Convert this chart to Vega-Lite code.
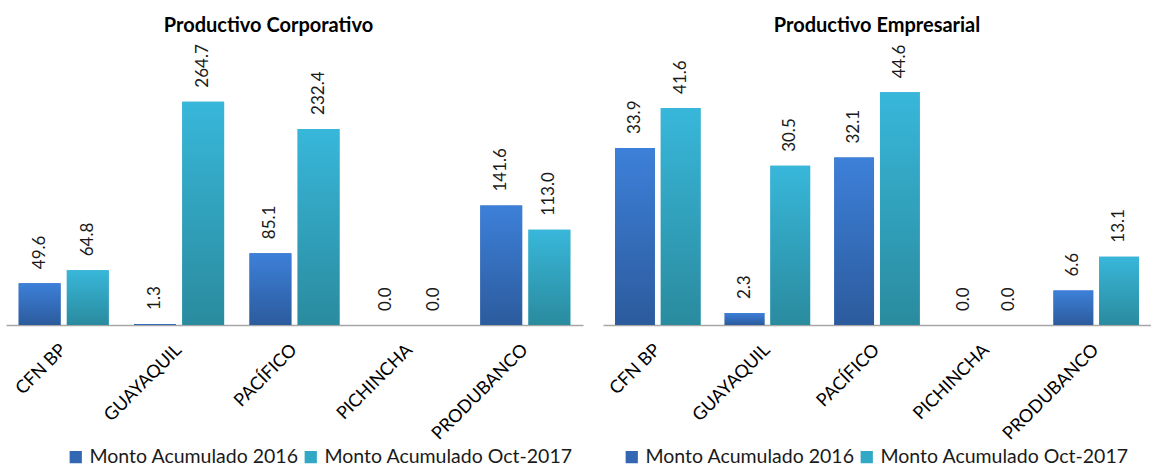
{
  "$schema": "https://vega.github.io/schema/vega-lite/v6.json",
  "padding": {"left": 6, "top": 16, "right": 0, "bottom": 0},
  "config": {"view": {"stroke": null}, "font": "Lato", "concat": {"spacing": 20}},
  "resolve": {"scale": {"color": "independent", "x": "independent", "y": "independent", "xOffset": "independent"}, "legend": {"color": "independent"}},
  "datasets": {
    "d": [
      {"panel": "Corporativo", "banco": "CFN BP", "serie": "Monto Acumulado 2016", "valor": 49.6},
      {"panel": "Corporativo", "banco": "CFN BP", "serie": "Monto Acumulado Oct-2017", "valor": 64.8},
      {"panel": "Corporativo", "banco": "GUAYAQUIL", "serie": "Monto Acumulado 2016", "valor": 1.3},
      {"panel": "Corporativo", "banco": "GUAYAQUIL", "serie": "Monto Acumulado Oct-2017", "valor": 264.7},
      {"panel": "Corporativo", "banco": "PACÍFICO", "serie": "Monto Acumulado 2016", "valor": 85.1},
      {"panel": "Corporativo", "banco": "PACÍFICO", "serie": "Monto Acumulado Oct-2017", "valor": 232.4},
      {"panel": "Corporativo", "banco": "PICHINCHA", "serie": "Monto Acumulado 2016", "valor": 0.0},
      {"panel": "Corporativo", "banco": "PICHINCHA", "serie": "Monto Acumulado Oct-2017", "valor": 0.0},
      {"panel": "Corporativo", "banco": "PRODUBANCO", "serie": "Monto Acumulado 2016", "valor": 141.6},
      {"panel": "Corporativo", "banco": "PRODUBANCO", "serie": "Monto Acumulado Oct-2017", "valor": 113.0},
      {"panel": "Empresarial", "banco": "CFN BP", "serie": "Monto Acumulado 2016", "valor": 33.9},
      {"panel": "Empresarial", "banco": "CFN BP", "serie": "Monto Acumulado Oct-2017", "valor": 41.6},
      {"panel": "Empresarial", "banco": "GUAYAQUIL", "serie": "Monto Acumulado 2016", "valor": 2.3},
      {"panel": "Empresarial", "banco": "GUAYAQUIL", "serie": "Monto Acumulado Oct-2017", "valor": 30.5},
      {"panel": "Empresarial", "banco": "PACÍFICO", "serie": "Monto Acumulado 2016", "valor": 32.1},
      {"panel": "Empresarial", "banco": "PACÍFICO", "serie": "Monto Acumulado Oct-2017", "valor": 44.6},
      {"panel": "Empresarial", "banco": "PICHINCHA", "serie": "Monto Acumulado 2016", "valor": 0.0},
      {"panel": "Empresarial", "banco": "PICHINCHA", "serie": "Monto Acumulado Oct-2017", "valor": 0.0},
      {"panel": "Empresarial", "banco": "PRODUBANCO", "serie": "Monto Acumulado 2016", "valor": 6.6},
      {"panel": "Empresarial", "banco": "PRODUBANCO", "serie": "Monto Acumulado Oct-2017", "valor": 13.1}
    ]
  },
  "hconcat": [
    {
      "title": {"text": "Productivo Corporativo", "fontSize": 20, "fontWeight": "bold", "font": "Lato", "color": "#000000", "anchor": "middle", "offset": 2, "dx": -26},
      "width": 577,
      "height": 287,
      "data": {"name": "d"},
      "transform": [{"filter": "datum.panel === 'Corporativo'"}],
      "encoding": {
        "x": {"field": "banco", "type": "nominal", "sort": null, "scale": {"paddingInner": 0.22, "paddingOuter": 0.11},
          "axis": {"title": null, "labelAngle": -45, "labelAlign": "right", "labelBaseline": "middle", "labelPadding": 22, "labelFontSize": 18, "labelFont": "Lato", "labelColor": "#000000", "ticks": false, "domainColor": "#a6a6a6", "domainWidth": 1.5}},
        "xOffset": {"field": "serie", "type": "nominal", "sort": null, "scale": {"domain": ["Monto Acumulado 2016", "Monto Acumulado Oct-2017"], "paddingInner": 0.13, "paddingOuter": 0}},
        "y": {"field": "valor", "type": "quantitative", "scale": {"domain": [0, 340.1], "nice": false, "zero": true}, "axis": null}
      },
      "layer": [
        {"mark": {"type": "bar"},
         "encoding": {"color": {"field": "serie", "type": "nominal", "scale": {"domain": ["Monto Acumulado 2016", "Monto Acumulado Oct-2017"], "range": ["#3467b3", "#31a9c6"]},
           "legend": {"orient": "none", "legendX": 60, "legendY": 409, "direction": "horizontal", "title": null, "labelFontSize": 19.5, "labelFont": "Lato", "labelColor": "#1a1a1a", "labelLimit": 400, "symbolType": "square", "symbolSize": 150, "symbolStrokeWidth": 0, "symbolOpacity": 1, "columnPadding": 2, "labelOffset": 4}}}},
        {"transform": [{"filter": "datum.serie === 'Monto Acumulado 2016'"}],
         "mark": {"type": "bar", "color": {"gradient": "linear", "x1": 0, "y1": 0, "x2": 0, "y2": 1, "stops": [{"offset": 0, "color": "#3d80d9"}, {"offset": 1, "color": "#2c5b9d"}]}}},
        {"transform": [{"filter": "datum.serie === 'Monto Acumulado Oct-2017'"}],
         "mark": {"type": "bar", "color": {"gradient": "linear", "x1": 0, "y1": 0, "x2": 0, "y2": 1, "stops": [{"offset": 0, "color": "#38b7da"}, {"offset": 1, "color": "#2a8b9e"}]}}},
        {"mark": {"type": "text", "angle": 270, "align": "left", "baseline": "middle", "dx": 14, "fontSize": 17, "font": "Lato", "color": "#1a1a1a"},
         "encoding": {"text": {"field": "valor", "type": "quantitative", "format": ".1f"}}}
      ]
    },
    {
      "title": {"text": "Productivo Empresarial", "fontSize": 20, "fontWeight": "bold", "font": "Lato", "color": "#000000", "anchor": "middle", "offset": 2},
      "width": 548,
      "height": 287,
      "data": {"name": "d"},
      "transform": [{"filter": "datum.panel === 'Empresarial'"}],
      "encoding": {
        "x": {"field": "banco", "type": "nominal", "sort": null, "scale": {"paddingInner": 0.22, "paddingOuter": 0.11},
          "axis": {"title": null, "labelAngle": -45, "labelAlign": "right", "labelBaseline": "middle", "labelPadding": 22, "labelFontSize": 18, "labelFont": "Lato", "labelColor": "#000000", "ticks": false, "domainColor": "#a6a6a6", "domainWidth": 1.5}},
        "xOffset": {"field": "serie", "type": "nominal", "sort": null, "scale": {"domain": ["Monto Acumulado 2016", "Monto Acumulado Oct-2017"], "paddingInner": 0.13, "paddingOuter": 0}},
        "y": {"field": "valor", "type": "quantitative", "scale": {"domain": [0, 55.0], "nice": false, "zero": true}, "axis": null}
      },
      "layer": [
        {"mark": {"type": "bar"},
         "encoding": {"color": {"field": "serie", "type": "nominal", "scale": {"domain": ["Monto Acumulado 2016", "Monto Acumulado Oct-2017"], "range": ["#3467b3", "#31a9c6"]},
           "legend": {"orient": "none", "legendX": 19, "legendY": 409, "direction": "horizontal", "title": null, "labelFontSize": 19.5, "labelFont": "Lato", "labelColor": "#1a1a1a", "labelLimit": 400, "symbolType": "square", "symbolSize": 150, "symbolStrokeWidth": 0, "symbolOpacity": 1, "columnPadding": 2, "labelOffset": 4}}}},
        {"transform": [{"filter": "datum.serie === 'Monto Acumulado 2016'"}],
         "mark": {"type": "bar", "color": {"gradient": "linear", "x1": 0, "y1": 0, "x2": 0, "y2": 1, "stops": [{"offset": 0, "color": "#3d80d9"}, {"offset": 1, "color": "#2c5b9d"}]}}},
        {"transform": [{"filter": "datum.serie === 'Monto Acumulado Oct-2017'"}],
         "mark": {"type": "bar", "color": {"gradient": "linear", "x1": 0, "y1": 0, "x2": 0, "y2": 1, "stops": [{"offset": 0, "color": "#38b7da"}, {"offset": 1, "color": "#2a8b9e"}]}}},
        {"mark": {"type": "text", "angle": 270, "align": "left", "baseline": "middle", "dx": 14, "fontSize": 17, "font": "Lato", "color": "#1a1a1a"},
         "encoding": {"text": {"field": "valor", "type": "quantitative", "format": ".1f"}}}
      ]
    }
  ]
}
